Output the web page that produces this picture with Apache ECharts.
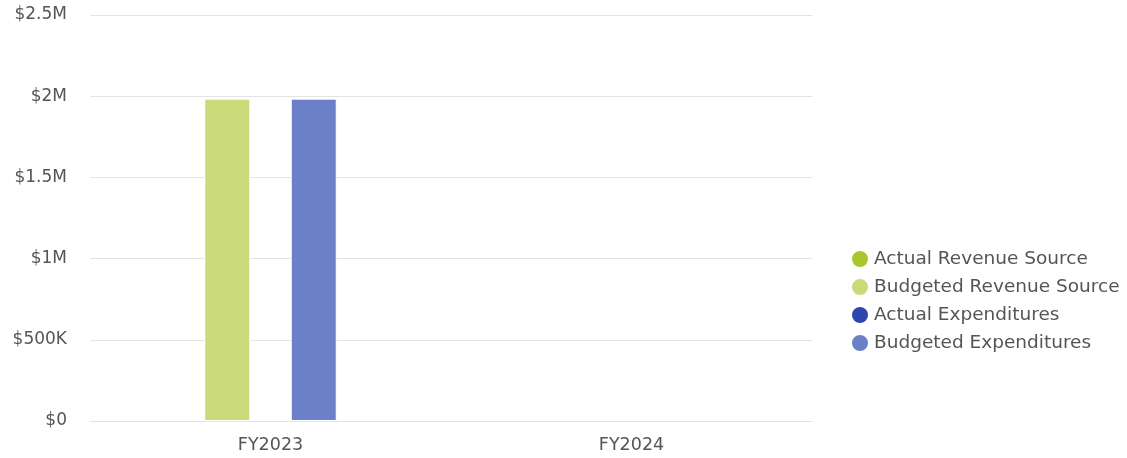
<!DOCTYPE html>
<html>
<head>
<meta charset="utf-8">
<script src="https://cdn.jsdelivr.net/npm/echarts@6/dist/echarts.min.js"></script>
<style>
  html, body { margin: 0; padding: 0; background: #fff; }
  #chart { width: 1127px; height: 458px; }
</style>
</head>
<body>
<div id="chart"></div>
<script>
const categories = ['FY2023', 'FY2024']
const actualRevenue = [null, null]
const budgetedRevenue = [1985000, null]
const actualExpenditures = [null, null]
const budgetedExpenditures = [1985000, null]
const yTicks = [0, 500000, 1000000, 1500000, 2000000, 2500000]

const fontFamily = '"DejaVu Sans", sans-serif'

function money(v) {
  if (v === 0) return '$0'
  if (v >= 1000000) return '$' + (v / 1000000) + 'M'
  return '$' + (v / 1000) + 'K'
}

const chart = echarts.init(document.getElementById('chart'))
const barBase = {
  type: 'bar',
  barWidth: 46,
  barGap: '88%',
  itemStyle: { borderColor: '#fff', borderWidth: 1 }
}

chart.setOption({
  animation: false,
  textStyle: { fontFamily },
  legend: {
    orient: 'vertical',
    left: 845,
    top: 244,
    icon: 'circle',
    itemWidth: 18,
    itemHeight: 18,
    itemGap: 8,
    textStyle: { fontSize: 18.5, color: '#555', fontFamily },
    data: ['Actual Revenue Source', 'Budgeted Revenue Source', 'Actual Expenditures', 'Budgeted Expenditures']
  },
  grid: { left: 90, right: 315, top: 15, bottom: 37 },
  xAxis: {
    type: 'category',
    data: categories,
    axisTick: { show: false },
    axisLine: { lineStyle: { color: '#e3e3e3' } },
    axisLabel: { color: '#555', fontSize: 17.5, margin: 15 }
  },
  yAxis: {
    type: 'value',
    min: yTicks[0],
    max: yTicks[yTicks.length - 1],
    interval: 500000,
    axisLabel: { color: '#555', fontSize: 17, margin: 23, padding: [5, 0, 0, 0], formatter: money },
    splitLine: { lineStyle: { color: '#e3e3e3' } }
  },
  series: [
    { ...barBase, name: 'Actual Revenue Source', stack: 'rev', data: actualRevenue, itemStyle: { ...barBase.itemStyle, color: '#a9c631' } },
    { ...barBase, name: 'Budgeted Revenue Source', stack: 'rev', data: budgetedRevenue, itemStyle: { ...barBase.itemStyle, color: '#cbda78' } },
    { ...barBase, name: 'Actual Expenditures', stack: 'exp', data: actualExpenditures, itemStyle: { ...barBase.itemStyle, color: '#2f46ae' } },
    { ...barBase, name: 'Budgeted Expenditures', stack: 'exp', data: budgetedExpenditures, itemStyle: { ...barBase.itemStyle, color: '#6b80c7' } }
  ]
})
</script>
</body>
</html>
